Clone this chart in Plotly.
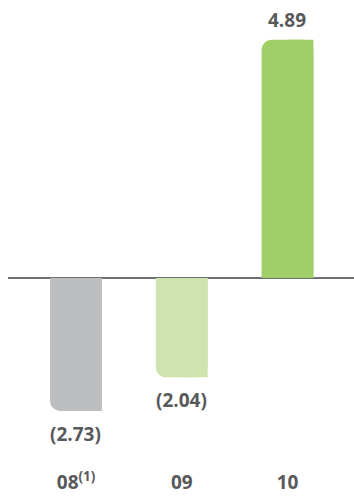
import plotly.graph_objects as go

categories = ["08<sup>(1)</sup>", "09", "10"]
values = [-2.73, -2.04, 4.89]
colors = ["#bcbec0", "#cfe3ae", "#a1cf67"]

x_pos = list(range(len(categories)))
bar_w = 0.49
text_color = "#58595b"
font_family = "Open Sans, Arial, sans-serif"

fig = go.Figure()
# full bar with rounded outer corners
fig.add_trace(go.Bar(x=x_pos, y=values, width=bar_w, marker=dict(color=colors, line=dict(width=0), cornerradius=10),
                     hoverinfo="skip", showlegend=False))
# right half with square corners, so only the left outer corner stays rounded
fig.add_trace(go.Bar(x=x_pos, y=values, width=bar_w / 2, offset=0, marker=dict(color=colors, line=dict(width=0)),
                     hoverinfo="skip", showlegend=False))

def fmt(v):
    return f"({abs(v):.2f})" if v < 0 else f"{v:.2f}"

for xi, v in zip(x_pos, values):
    fig.add_annotation(x=xi, y=v, text=fmt(v), showarrow=False,
                       yshift=20 if v > 0 else -23, yanchor="middle",
                       font=dict(family=font_family, size=19, color=text_color, weight=700))

fig.update_layout(
    width=354, height=497, margin=dict(l=8, r=0, t=0, b=28, autoexpand=False),
    paper_bgcolor="white", plot_bgcolor="white", barmode="overlay",
    xaxis=dict(range=[-0.643, 2.629], tickvals=x_pos, ticktext=categories, showgrid=False,
               zeroline=False, showline=False, ticks="", automargin=False,
               tickfont=dict(family=font_family, size=19, color=text_color, weight=700)),
    yaxis=dict(range=[-3.922, 5.708], showticklabels=False, showgrid=False, zeroline=True,
               zerolinecolor="#6d6e71", zerolinewidth=2, showline=False, ticks="", automargin=False),
)

fig.write_html("out.html")
